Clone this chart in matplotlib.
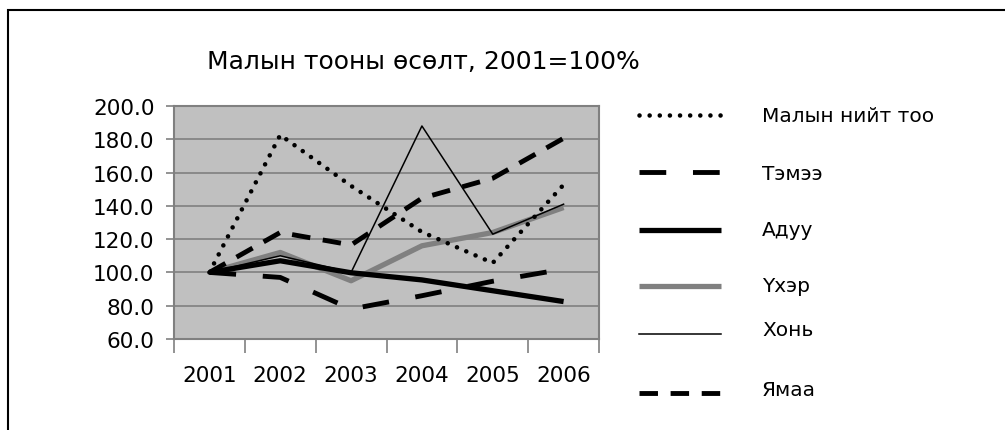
import matplotlib
matplotlib.use("Agg")
import matplotlib.pyplot as plt
from matplotlib.lines import Line2D
from matplotlib.patches import Rectangle

plt.rcParams['font.family'] = ['DejaVu Sans']

years = ["2001", "2002", "2003", "2004", "2005", "2006"]
total = [100.0, 182.6, 152.0, 124.3, 105.7, 152.7]
camel = [100.0, 97.0, 78.0, 86.0, 94.7, 102.0]
horse = [100.0, 107.0, 99.8, 95.5, 89.0, 82.5]
cattle = [100.0, 112.0, 95.0, 116.0, 124.0, 139.0]
sheep = [100.0, 110.0, 100.0, 188.0, 123.0, 141.0]
goat = [100.0, 124.0, 116.5, 144.6, 156.6, 180.6]
names = ["Малын нийт тоо", "Тэмээ", "Адуу", "Үхэр", "Хонь", "Ямаа"]

grey = "#808080"

fig = plt.figure(figsize=(10.05, 4.31), dpi=100)
# outer frame, runs off the right and bottom edges
fig.patches.append(Rectangle((8/1005, -0.2), 1.2, 1 - 11/431 + 0.2,
                             transform=fig.transFigure, fill=False,
                             edgecolor="black", lw=1.5))

ax = fig.add_axes([174/1005, 1 - 340/431, 425/1005, 233/431])
ax.set_facecolor("#c0c0c0")

x = list(range(len(years)))
styles = [
    dict(color="black", lw=3.3, dashes=(0.01, 2.2), dash_capstyle="round"),
    dict(color="black", lw=3.5, dashes=(5.5, 5.5)),
    dict(color="black", lw=3.8, solid_capstyle="butt"),
    dict(color=grey, lw=3.8, solid_capstyle="butt"),
    dict(color="black", lw=1.1),
    dict(color="black", lw=3.5, dashes=(3.8, 2.6)),
]
series = [total, camel, horse, cattle, sheep, goat]
order = [3, 2, 4, 0, 5, 1]
for i in order:
    ax.plot(x, series[i], zorder=3, **styles[i])

ax.set_xlim(-0.5, 5.5)
ax.set_ylim(60, 200)
ax.set_yticks(range(60, 201, 20))
ax.set_yticklabels([f"{v:.1f}" for v in range(60, 201, 20)], fontsize=15.5)
ax.set_xticks(x)
ax.set_xticklabels(years, fontsize=15.5)
ax.set_xticks([i - 0.5 for i in range(7)], minor=True)
ax.tick_params(axis="x", which="major", length=0, pad=19)
ax.tick_params(axis="x", which="minor", length=10, color=grey, width=1.2)
ax.tick_params(axis="y", length=6, color=grey, width=1.2, pad=8)
ax.grid(axis="y", color=grey, lw=1.2, zorder=1)
ax.set_axisbelow(True)
for s in ax.spines.values():
    s.set_color(grey)
    s.set_linewidth(1.5)

fig.text(423/1005, 1 - 62/431, "Малын тооны өсөлт, 2001=100%",
         ha="center", va="center", fontsize=18)

# legend drawn by hand, entries are unevenly spaced
leg_y = [116, 173, 231, 287, 335, 394]
txt_y = [116, 174, 231, 287, 331, 390]
for i in range(len(names)):
    yy = 1 - leg_y[i]/431
    fig.add_artist(Line2D([639/1005, 721/1005], [yy, yy],
                          transform=fig.transFigure, **styles[i]))
    fig.text(762/1005, 1 - txt_y[i]/431, names[i], ha="left",
             va="center", fontsize=14.5)

fig.savefig("out.png", dpi=100)
